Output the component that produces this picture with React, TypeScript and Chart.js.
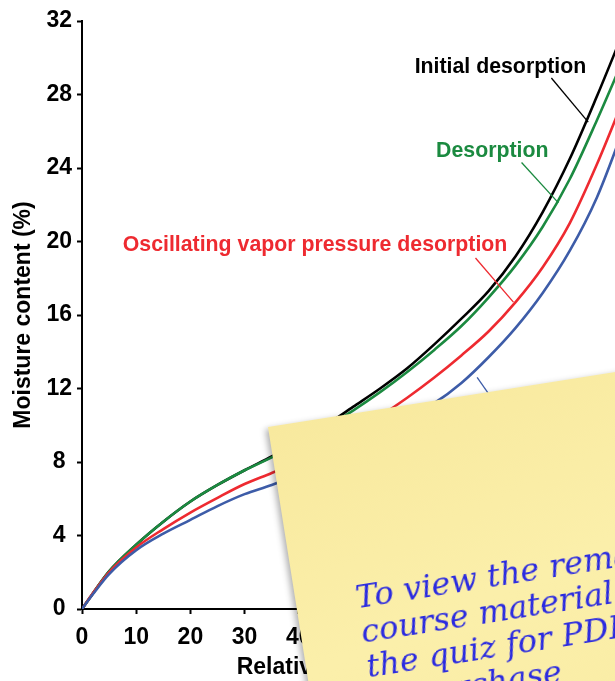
import React, { useEffect, useRef } from "react";
import { Chart, registerables } from "chart.js";

Chart.register(...registerables);

// Relative humidity (%)
const rh = [0, 2, 5, 10, 15, 20, 25, 30, 35, 40, 45, 50, 55, 60, 65, 70, 75, 80, 85, 90, 95, 100];
// Moisture content (%)
const initialDesorption = [0, 0.85, 2.05, 3.5, 4.75, 5.85, 6.75, 7.55, 8.3, 9.1, 10.0, 11.0, 12.0, 13.1, 14.4, 15.8, 17.3, 19.2, 21.6, 24.5, 27.9, 31.5];
const desorption = [0, 0.85, 2.05, 3.5, 4.75, 5.85, 6.75, 7.55, 8.25, 9.05, 9.9, 10.8, 11.8, 12.9, 14.1, 15.4, 16.95, 18.7, 20.8, 23.4, 26.6, 30.0];
const oscillating = [0, 0.85, 2.0, 3.35, 4.35, 5.25, 6.05, 6.8, 7.4, 8.05, 8.8, 9.6, 10.5, 11.5, 12.6, 13.8, 15.1, 16.7, 18.6, 21.0, 24.2, 27.8];
const adsorption = [0, 0.8, 1.9, 3.2, 4.1, 4.85, 5.6, 6.25, 6.75, 7.35, 8.0, 8.8, 9.6, 10.4, 11.2, 12.3, 13.7, 15.3, 17.2, 19.5, 22.4, 26.2];

const seriesNames = ["Adsorption", "Oscillating vapor pressure desorption", "Desorption", "Initial desorption"];
const seriesColors = ["#3d5ca8", "#ee2a30", "#1b8a40", "#000000"];

// Annotation labels (data coordinates)
const labelTexts = ["Initial desorption", "Desorption", "Oscillating vapor pressure desorption"];
const labelColors = ["#000000", "#1b8a40", "#ee2a30"];
const labelRh = [77.2, 75.7, 43.0];
const labelMc = [29.5, 24.9, 19.8];
// Leader lines
const leaderColors = ["#000000", "#1b8a40", "#ee2a30", "#3d5ca8"];
const leaderFrom = [[86.6, 28.9], [81.1, 24.3], [72.6, 19.1], [72.9, 12.6]];
const leaderTo = [[93.4, 26.5], [87.9, 22.1], [79.6, 16.7], [76.0, 11.3]];

const xTitle = "Relative humidity (%)";
const yTitle = "Moisture content (%)";

const noteLines = ["To view the remaining", "course material and", "the quiz for PDH", "to purchase"];

const FONT = "Arial, 'Liberation Sans', sans-serif";

const annotationPlugin = {
  id: "annotations",
  afterDatasetsDraw(chart: any) {
    const { ctx, scales } = chart;
    const x = scales.x;
    const y = scales.y;
    ctx.save();
    leaderFrom.forEach((f, i) => {
      const t = leaderTo[i];
      ctx.beginPath();
      ctx.strokeStyle = leaderColors[i];
      ctx.lineWidth = 1.3;
      ctx.moveTo(x.getPixelForValue(f[0]), y.getPixelForValue(f[1]));
      ctx.lineTo(x.getPixelForValue(t[0]), y.getPixelForValue(t[1]));
      ctx.stroke();
    });
    ctx.font = `bold 21.3px ${FONT}`;
    ctx.textAlign = "center";
    ctx.textBaseline = "middle";
    labelTexts.forEach((t, i) => {
      ctx.fillStyle = labelColors[i];
      ctx.fillText(t, x.getPixelForValue(labelRh[i]), y.getPixelForValue(labelMc[i]));
    });
    ctx.restore();
  },
};

export default function App() {
  const canvasRef = useRef<HTMLCanvasElement>(null);

  useEffect(() => {
    const series = [adsorption, oscillating, desorption, initialDesorption];
    const chart = new Chart(canvasRef.current as HTMLCanvasElement, {
      type: "line",
      data: {
        datasets: series.map((s, i) => ({
          label: seriesNames[i],
          data: rh.map((r, j) => ({ x: r, y: s[j] })),
          borderColor: seriesColors[i],
          backgroundColor: seriesColors[i],
          borderWidth: 2.6,
          pointRadius: 0,
          cubicInterpolationMode: "monotone" as const,
          fill: false,
        })),
      },
      options: {
        animation: false,
        responsive: false,
        devicePixelRatio: 1,
        layout: { padding: { top: 21, right: 56, bottom: 0, left: 0 } },
        plugins: { legend: { display: false }, tooltip: { enabled: false } },
        scales: {
          x: {
            type: "linear",
            min: 0,
            max: 100,
            afterFit: (s: any) => {
              s.height = 72;
            },
            ticks: {
              stepSize: 10,
              color: "#000",
              padding: 10,
              font: { family: FONT, size: 23, weight: "bold" },
            },
            grid: { drawOnChartArea: false, drawTicks: true, tickLength: 5, tickWidth: 2, tickColor: "#000" },
            border: { display: true, color: "#000", width: 2 },
            title: {
              display: true,
              text: xTitle,
              color: "#000",
              font: { family: FONT, size: 23, weight: "bold" },
              padding: { top: 0, bottom: 0 },
            },
          },
          y: {
            min: 0,
            max: 32,
            afterFit: (s: any) => {
              s.width = 82;
            },
            ticks: {
              stepSize: 4,
              color: "#000",
              padding: 5,
              crossAlign: "center",
              font: { family: FONT, size: 23, weight: "bold" },
            },
            grid: { drawOnChartArea: false, drawTicks: true, tickLength: 5, tickWidth: 2, tickColor: "#000" },
            border: { display: true, color: "#000", width: 2 },
            title: {
              display: true,
              text: yTitle,
              color: "#000",
              font: { family: FONT, size: 23, weight: "bold" },
              padding: { top: 10, bottom: 0 },
            },
          },
        },
      },
      plugins: [annotationPlugin],
    });
    return () => chart.destroy();
  }, []);

  return (
    <div
      style={{
        position: "absolute",
        left: 0,
        top: 0,
        width: 615,
        height: 681,
        overflow: "hidden",
        background: "#fff",
      }}
    >
      <canvas ref={canvasRef} width={680} height={681} style={{ display: "block", width: 680, height: 681 }} />
      <div
        style={{
          position: "absolute",
          left: 268,
          top: 427,
          width: 520,
          height: 420,
          transformOrigin: "0 0",
          transform: "rotate(-9deg)",
          background: "linear-gradient(165deg, #f8e99e 0%, #fbefaa 45%, #f9eba2 100%)",
          boxShadow: "-3px 2px 6px rgba(0,0,0,0.3)",
        }}
      >
        <div
          style={{
            position: "absolute",
            left: 60,
            top: 165,
            fontFamily: "'DejaVu Serif', serif",
            fontStyle: "italic",
            fontSize: 32,
            lineHeight: "35px",
            color: "#2b2be0",
            whiteSpace: "nowrap",
          }}
        >
          {noteLines.map((l, i) => (
            <div key={i}>{l}</div>
          ))}
        </div>
      </div>
    </div>
  );
}
